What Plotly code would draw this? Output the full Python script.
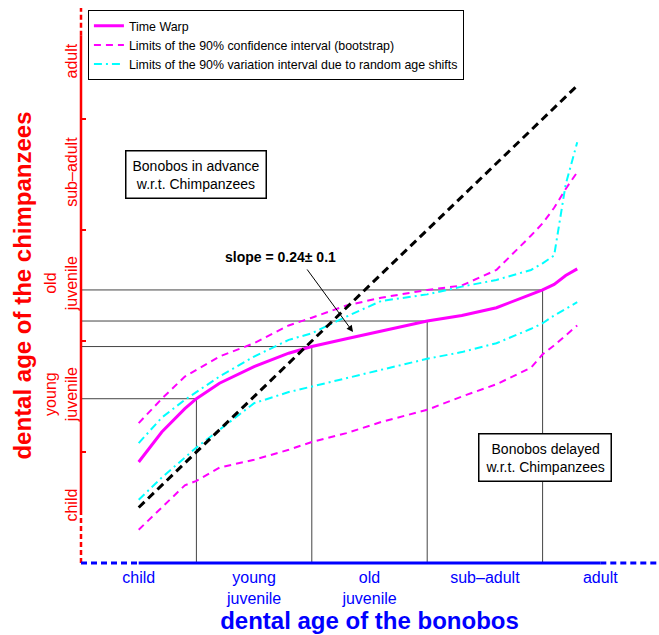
import plotly.graph_objects as go
import numpy as np

# ---- data ----
stage_labels = ["child", "young<br>juvenile", "old<br>juvenile", "sub\u2013adult", "adult"]
stage_pos = [0.5, 1.5, 2.5, 3.5, 4.5]
stage_bounds = [1, 2, 3, 4]

bonobo_age = [0.5, 0.7, 0.9, 1.0, 1.2, 1.5, 1.8, 2.0, 2.3, 2.6, 3.0, 3.3, 3.6, 3.9, 4.0, 4.1, 4.2, 4.3]
time_warp  = [0.91, 1.18, 1.39, 1.48, 1.62, 1.77, 1.89, 1.95, 2.02, 2.09, 2.18, 2.23, 2.30, 2.42, 2.46, 2.51, 2.59, 2.65]
ci_upper   = [1.26, 1.48, 1.68, 1.74, 1.86, 1.98, 2.14, 2.21, 2.32, 2.39, 2.46, 2.50, 2.64, 2.95, 3.06, 3.20, 3.37, 3.52]
ci_lower   = [0.30, 0.50, 0.70, 0.74, 0.86, 0.93, 1.02, 1.09, 1.17, 1.27, 1.38, 1.50, 1.61, 1.76, 1.88, 1.96, 2.05, 2.14]
var_upper  = [1.08, 1.31, 1.47, 1.54, 1.68, 1.86, 2.01, 2.07, 2.22, 2.36, 2.42, 2.49, 2.55, 2.64, 2.70, 2.77, 3.41, 3.79]
var_lower  = [0.57, 0.77, 0.95, 1.04, 1.20, 1.44, 1.54, 1.59, 1.67, 1.74, 1.84, 1.90, 1.98, 2.11, 2.16, 2.23, 2.29, 2.35]

MAG = "#ff00ff"
CYA = "#00ffff"
FONT = "Liberation Sans, Arial, Helvetica, sans-serif"

fig = go.Figure()

# reference lines at the stage boundaries
for b in stage_bounds:
    yb = float(np.interp(b, bonobo_age, time_warp))
    fig.add_trace(go.Scatter(x=[0, b, b], y=[yb, yb, 0], mode="lines",
                             line=dict(color="#444444", width=1),
                             showlegend=False, hoverinfo="skip"))

fig.add_trace(go.Scatter(x=bonobo_age, y=time_warp, mode="lines", name="Time Warp",
                         line=dict(color=MAG, width=3)))
fig.add_trace(go.Scatter(x=bonobo_age, y=ci_upper, mode="lines",
                         name="Limits of the 90% confidence interval (bootstrap)",
                         line=dict(color=MAG, width=2, dash="7px,5px")))
fig.add_trace(go.Scatter(x=bonobo_age, y=var_upper, mode="lines",
                         name="Limits of the 90% variation interval due to random age shifts",
                         line=dict(color=CYA, width=2, dash="8px,4px,2px,4px")))
fig.add_trace(go.Scatter(x=bonobo_age, y=ci_lower, mode="lines", showlegend=False,
                         line=dict(color=MAG, width=2, dash="7px,5px")))
fig.add_trace(go.Scatter(x=bonobo_age, y=var_lower, mode="lines", showlegend=False,
                         line=dict(color=CYA, width=2, dash="8px,4px,2px,4px")))

# identity line (no time warp)
ident = [bonobo_age[0], bonobo_age[-1]]
fig.add_trace(go.Scatter(x=ident, y=ident, mode="lines", showlegend=False,
                         line=dict(color="black", width=3, dash="8px,5px")))

shapes = [
    dict(type="line", xref="paper", yref="y", x0=0, x1=0, y0=0.45, y1=4.75,
         line=dict(color="red", width=2.5)),
    dict(type="line", xref="paper", yref="y", x0=0, x1=0, y0=0, y1=0.45,
         line=dict(color="red", width=2.5, dash="5px,3px")),
    dict(type="line", xref="paper", yref="y", x0=0, x1=0, y0=4.75, y1=5,
         line=dict(color="red", width=2.5, dash="5px,3px")),
    dict(type="line", xref="x", yref="paper", x0=0.5, x1=4.5, y0=0, y1=0,
         line=dict(color="blue", width=3)),
    dict(type="line", xref="x", yref="paper", x0=0, x1=0.5, y0=0, y1=0,
         line=dict(color="blue", width=3, dash="6px,4px")),
    dict(type="line", xref="x", yref="paper", x0=4.5, x1=5, y0=0, y1=0,
         line=dict(color="blue", width=3, dash="6px,4px")),
]

annotations = [
    dict(x=1.0, y=3.5, xref="x", yref="y", text="Bonobos in advance<br>w.r.t. Chimpanzees",
         showarrow=False, font=dict(size=14, color="black", family=FONT),
         bordercolor="black", borderwidth=1.5, borderpad=6, bgcolor="white"),
    dict(x=4.02, y=0.95, xref="x", yref="y", text="Bonobos delayed<br>w.r.t. Chimpanzees",
         showarrow=False, font=dict(size=14, color="black", family=FONT),
         bordercolor="black", borderwidth=1.5, borderpad=6, bgcolor="white"),
    dict(x=1.725, y=2.76, xref="x", yref="y", text="<b>slope = 0.24\u00b1 0.1</b>",
         showarrow=False, font=dict(size=14, color="black", family=FONT)),
    dict(x=2.357, y=2.081, ax=1.95, ay=2.658, xref="x", yref="y", axref="x", ayref="y",
         text="", showarrow=True, arrowhead=2, arrowsize=1.3, arrowwidth=1, arrowcolor="black"),
]

fig.update_layout(
    width=659, height=635,
    margin=dict(l=81, r=1, t=8, b=72),
    paper_bgcolor="white", plot_bgcolor="white",
    font=dict(family=FONT, size=12, color="black"),
    showlegend=True,
    legend=dict(x=0.012, y=0.996, xanchor="left", yanchor="top",
                bordercolor="black", borderwidth=1, bgcolor="white",
                tracegroupgap=0,
                font=dict(size=12.4, family=FONT, color="black")),
    shapes=shapes,
    annotations=annotations,
    xaxis=dict(range=[0, 5], showgrid=False, zeroline=False, showline=False, automargin=False,
               tickmode="array", tickvals=stage_pos, ticktext=stage_labels, ticks="",
               ticklabelstandoff=3,
               tickfont=dict(size=16, color="blue", family=FONT),
               title=dict(text="<b>dental age of the bonobos</b>", standoff=2,
                          font=dict(size=24, color="blue", family=FONT))),
    yaxis=dict(range=[0, 5], showgrid=False, zeroline=False, showline=False, automargin=False,
               tickmode="array", tickvals=stage_pos, ticktext=stage_labels, ticks="",
               tickangle=-90,
               tickfont=dict(size=16, color="red", family=FONT),
               minor=dict(tickmode="array", tickvals=stage_bounds, ticks="inside",
                          ticklen=5, tickwidth=1.5, tickcolor="red", showgrid=False),
               title=dict(text="<b>dental age of the chimpanzees</b>", standoff=3,
                          font=dict(size=24, color="red", family=FONT))),
)

fig.write_html("out.html", config={"displayModeBar": False},
               post_script="document.body.style.margin='0';")
